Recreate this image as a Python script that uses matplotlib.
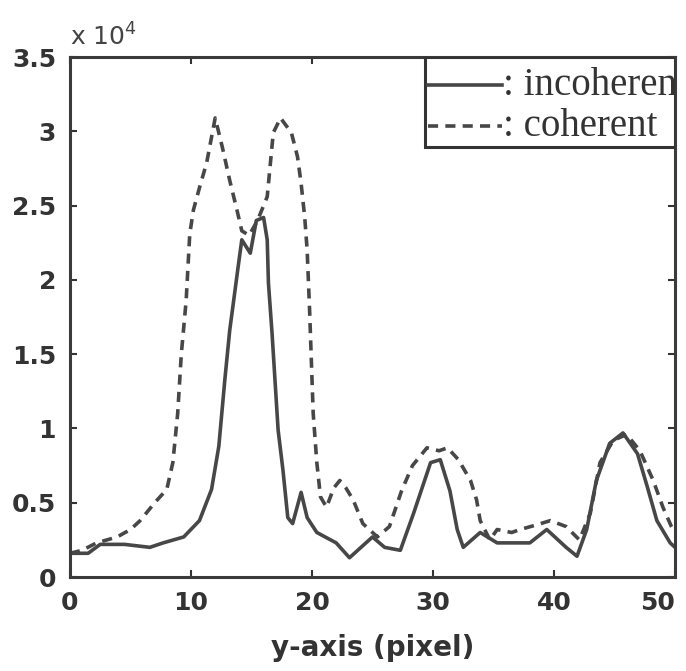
import matplotlib
matplotlib.use("Agg")
import matplotlib.pyplot as plt
from matplotlib.patches import Rectangle
from matplotlib.lines import Line2D
from matplotlib.ticker import FormatStrFormatter

# ---- data (values in units of 10^4) ----
coh_x = [0, 1, 2.2, 3.9, 5.0, 5.8, 7.0, 8.0, 8.5, 8.9, 9.2, 9.6, 9.9, 10.2, 10.7, 11.3, 12.0,
         12.6, 13.2, 13.8, 14.2, 14.8, 15.5, 16.3, 16.8, 17.4, 18.3, 18.8, 19.1, 19.4,
         19.6, 19.8, 20.1, 20.4, 20.7, 21.2, 21.8, 22.3, 22.8, 23.4, 24.2, 25.4, 26.4, 27.4,
         28.3, 29.5, 30.5, 31.2, 32.1, 33.1, 33.6, 33.9, 34.7, 35.3, 36.5, 37.2, 38.5,
         39.7, 41.0, 42.1, 43.0, 43.8, 44.9, 46.0, 47.1, 48.2, 49.0, 49.7, 50]
coh_y = [0.16, 0.18, 0.23, 0.27, 0.32, 0.38, 0.50, 0.59, 0.77, 1.10, 1.50, 1.86, 2.31, 2.47,
         2.62, 2.79, 3.09, 2.89, 2.67, 2.47, 2.33, 2.30, 2.40, 2.56, 2.99, 3.09, 2.99, 2.83,
         2.65, 2.42, 2.20, 1.80, 1.10, 0.77, 0.54, 0.47, 0.60, 0.65, 0.60, 0.52, 0.36, 0.27,
         0.34, 0.58, 0.75, 0.87, 0.85, 0.87, 0.79, 0.65, 0.52, 0.38, 0.25, 0.32, 0.30, 0.32,
         0.35, 0.38, 0.34, 0.25, 0.43, 0.77, 0.92, 0.96, 0.85, 0.65, 0.47, 0.34, 0.30]

inc_x = [0, 1.5, 2.5, 4.5, 6.6, 7.7, 9.4, 10.7, 11.7, 12.3, 12.8, 13.2, 13.9, 14.2, 14.9,
         15.4, 16.0, 16.3, 16.4, 16.7, 17.2, 17.6, 18.0, 18.4, 19.1, 19.6, 20.4, 22.0,
         23.1, 25.0, 26.0, 27.3, 28.4, 29.8, 30.6, 31.4, 32.0, 32.5, 33.9, 35.3, 38.0,
         39.4, 41.0, 41.9, 42.7, 43.5, 44.6, 45.7, 46.9, 47.7, 48.5, 49.6, 50]
inc_y = [0.16, 0.16, 0.22, 0.22, 0.20, 0.23, 0.27, 0.38, 0.59, 0.88, 1.33, 1.66, 2.09, 2.27,
         2.18, 2.40, 2.42, 2.27, 1.98, 1.64, 0.99, 0.72, 0.40, 0.36, 0.57, 0.40, 0.30, 0.23,
         0.13, 0.27, 0.20, 0.18, 0.43, 0.77, 0.79, 0.58, 0.32, 0.20, 0.30, 0.23, 0.23, 0.32,
         0.20, 0.14, 0.32, 0.65, 0.90, 0.97, 0.83, 0.61, 0.38, 0.23, 0.20]

x_ticks = [0, 10, 20, 30, 40, 50]
y_ticks = [0, 0.5, 1, 1.5, 2, 2.5, 3, 3.5]
labels = [": incoherent", ": coherent"]
xlabel = "y-axis (pixel)"

line_col = "#474747"
fig = plt.figure(figsize=(6.86, 6.71), dpi=100)
ax = fig.add_axes([0.102, 0.140, 0.882, 0.775])

ax.plot(inc_x, inc_y, color=line_col, lw=2.6, solid_capstyle="round")
ax.plot(coh_x, coh_y, color=line_col, lw=2.6, dashes=(2.8, 2.0))

ax.set_xlim(0, 50)
ax.set_ylim(0, 3.5)
ax.set_xticks(x_ticks)
ax.set_yticks(y_ticks)
ax.yaxis.set_major_formatter(FormatStrFormatter('%g'))
ax.tick_params(direction="in", length=5, width=1.5, top=True, right=True,
               labelsize=18, colors="#333333", pad=10)
for lab in ax.get_xticklabels() + ax.get_yticklabels():
    lab.set_fontweight("bold")
ax.get_xticklabels()[-1].set_horizontalalignment("right")
ax.get_xticklabels()[-1].set_x(50)
for sp in ax.spines.values():
    sp.set_linewidth(2.2)
    sp.set_color("#3a3a3a")

ax.set_xlabel(xlabel, fontsize=20, fontweight="bold", color="#333333", labelpad=14)
ax.text(0.0, 1.012, r"x 10$^{4}$", transform=ax.transAxes, fontsize=18,
        color="#444444", ha="left", va="bottom")

# legend box drawn by hand (text clipped at the axes edge as in the reference)
ax.add_patch(Rectangle((0.587, 0.827), 0.413, 0.173, transform=ax.transAxes,
                       facecolor="white", edgecolor="#333333", lw=2.2, zorder=5))
ax.add_line(Line2D([0.592, 0.714], [0.946, 0.946], transform=ax.transAxes,
                   color=line_col, lw=2.6, zorder=6))
ax.add_line(Line2D([0.592, 0.714], [0.867, 0.867], transform=ax.transAxes,
                   color=line_col, lw=2.6, dashes=(2.8, 2.0), zorder=6))
for yy, lab in zip([0.946, 0.867], labels):
    ax.text(0.716, yy, lab, transform=ax.transAxes, fontsize=28,
            family="Liberation Serif", color="#333333", va="center",
            ha="left", zorder=7, clip_on=True)

fig.savefig("out.png", dpi=100)
